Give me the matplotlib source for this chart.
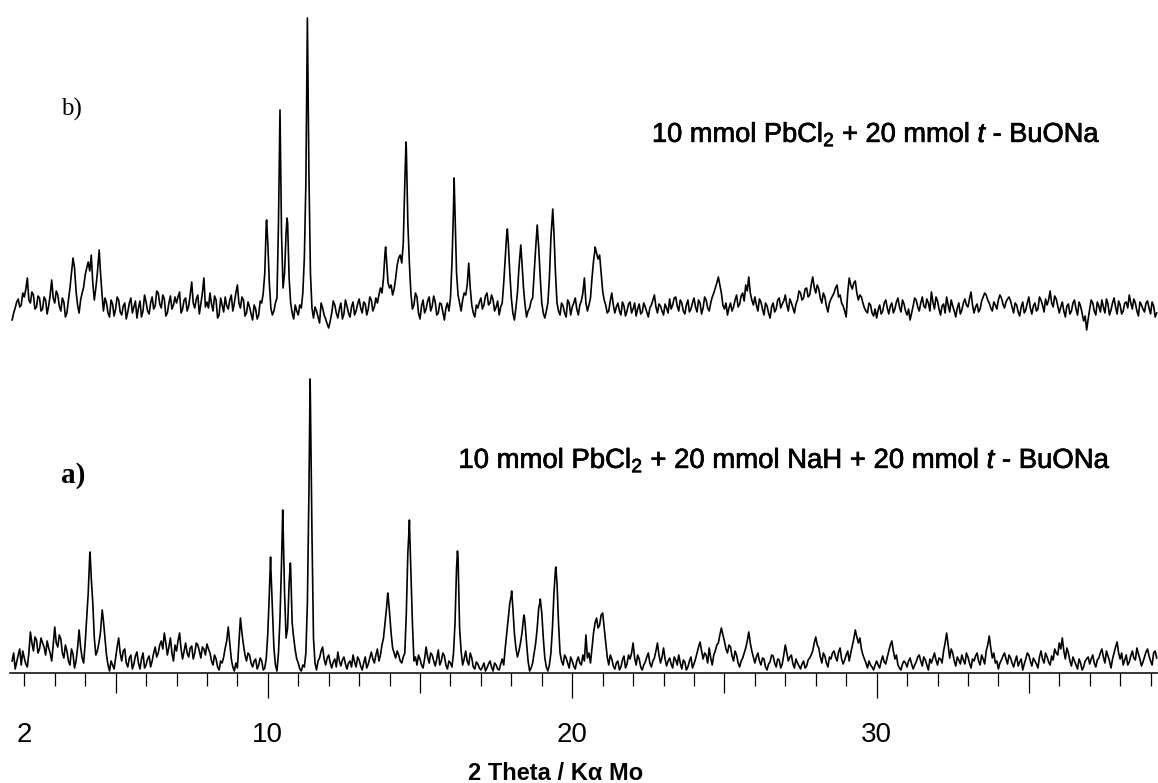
import numpy as np
import matplotlib
matplotlib.use("Agg")
import matplotlib.pyplot as plt
import matplotlib.patheffects as pe

plt.rcParams['font.family'] = ['Liberation Sans', 'DejaVu Sans']
plt.rcParams['mathtext.fontset'] = 'custom'
plt.rcParams['mathtext.rm'] = 'Liberation Sans'
plt.rcParams['mathtext.it'] = 'Liberation Sans:italic'
plt.rcParams['mathtext.bf'] = 'Liberation Sans:bold'

# intensities every 0.1 deg from 2theta = 1.6,
# plus the in-between readings at 1.65, 1.75, ...
x0 = 1.6
dx = 0.1

# b) 10 mmol PbCl2 + 20 mmol t-BuONa
b_counts = [
    13, 25, 34, 28,
    36, 55, 30, 38, 26, 35, 24, 33, 27, 53,
    30, 38, 22, 31, 20, 45, 75, 42, 20, 40,
    58, 71, 78, 33, 60, 62, 22, 30, 16, 29,
    24, 33, 18, 30, 21, 35, 26, 15, 32, 22,
    31, 19, 36, 27, 40, 25, 34, 20, 37, 28,
    30, 41, 24, 35, 27, 51, 25, 38, 29, 55,
    31, 40, 22, 33, 18, 28, 36, 24, 38, 30,
    48, 25, 33, 20, 26, 13, 24, 18, 30, 60,
    90, 25, 22, 35, 223, 45, 100, 55, 20, 28,
    18, 25, 75, 315, 60, 15, 22, 10, 25, 14,
    5, 20, 28, 15, 30, 19, 27, 16, 31, 22,
    34, 20, 29, 24, 33, 26, 30, 45, 55, 72,
    45, 38, 55, 75, 70, 150, 110, 40, 28, 36,
    14, 33, 24, 36, 27, 31, 20, 29, 13, 30,
    35, 125, 60, 30, 33, 38, 70, 28, 16, 25,
    35, 28, 40, 30, 33, 26, 18, 30, 75, 90,
    35, 13, 40, 85, 45, 16, 25, 35, 85, 85,
    30, 15, 30, 95, 100, 30, 18, 27, 16, 30,
    26, 35, 18, 32, 55, 22, 35, 72, 80, 78,
    42, 28, 22, 40, 20, 30, 18, 27, 22, 31,
    24, 17, 29, 21, 26, 16, 28, 38, 20, 27,
    18, 25, 34, 28, 36, 22, 30, 19, 33, 24,
    35, 21, 30, 25, 33, 22, 36, 45, 56, 40,
    24, 18, 30, 26, 38, 29, 40, 48, 56, 33,
    36, 22, 31, 18, 27, 15, 30, 24, 35, 29,
    38, 22, 30, 20, 33, 40, 35, 45, 38, 56,
    40, 44, 30, 36, 21, 34, 40, 48, 38, 27,
    16, 55, 44, 52, 33, 36, 25, 20, 28, 17,
    15, 28, 22, 33, 19, 30, 24, 35, 21, 29,
    18, 13, 27, 33, 22, 36, 25, 30, 41, 24,
    32, 18, 29, 36, 21, 27, 16, 30, 23, 34,
    26, 41, 20, 29, 24, 36, 38, 30, 22, 28,
    33, 35, 25, 34, 32, 20, 28, 17, 31, 23,
    36, 19, 30, 24, 33, 21, 28, 42, 26, 34,
    20, 31, 16, 29, 22, 33, 18, 27, 12, 3,
    24, 30, 18, 27, 33, 20, 29, 23, 35, 19,
    28, 22, 31, 38, 24, 30, 17, 28, 21, 32,
    19, 27, 20,
]
b_counts_mid = [
    20, 31, 26, 40,
    44, 33, 41, 24, 37, 22, 36, 19, 38, 35,
    42, 27, 35, 16, 33, 60, 65, 28, 33, 46,
    65, 62, 50, 45, 80, 40, 35, 20, 33, 17,
    36, 21, 27, 14, 30, 20, 32, 25, 16, 38,
    22, 30, 24, 42, 29, 38, 17, 30, 24, 36,
    36, 20, 33, 22, 38, 30, 34, 19, 40, 26,
    25, 29, 37, 15, 35, 21, 27, 33, 22, 40,
    30, 36, 17, 31, 19, 28, 14, 32, 40, 110,
    50, 18, 30, 110, 100, 60, 110, 30, 14, 22,
    28, 40, 150, 160, 25, 26, 16, 30, 18, 9,
    12, 32, 20, 24, 14, 33, 20, 26, 18, 29,
    25, 31, 18, 36, 22, 35, 38, 40, 80, 50,
    48, 44, 68, 78, 90, 185, 70, 24, 40, 20,
    27, 20, 32, 22, 37, 18, 30, 21, 25, 22,
    70, 120, 38, 22, 40, 48, 45, 20, 28, 31,
    24, 37, 28, 38, 22, 32, 26, 50, 100, 60,
    20, 25, 65, 70, 28, 22, 32, 60, 108, 55,
    20, 22, 55, 120, 60, 22, 30, 20, 33, 18,
    30, 24, 28, 40, 30, 28, 55, 84, 74, 60,
    33, 20, 32, 28, 26, 22, 31, 17, 29, 20,
    30, 24, 19, 30, 21, 25, 33, 26, 29, 22,
    29, 20, 24, 35, 27, 33, 22, 28, 21, 30,
    26, 33, 19, 36, 25, 30, 40, 50, 48, 28,
    30, 25, 22, 33, 26, 37, 32, 42, 40, 28,
    28, 34, 24, 30, 20, 26, 21, 33, 25, 32,
    28, 34, 25, 29, 42, 33, 44, 36, 48, 46,
    48, 35, 40, 27, 30, 37, 45, 36, 30, 22,
    40, 48, 50, 40, 38, 30, 22, 30, 20, 24,
    23, 19, 30, 25, 27, 20, 31, 26, 33, 22,
    24, 20, 35, 26, 30, 27, 34, 22, 31, 36,
    24, 27, 20, 28, 33, 22, 25, 19, 30, 28,
    34, 28, 26, 21, 32, 40, 33, 25, 31, 24,
    38, 29, 31, 36, 26, 30, 21, 26, 20, 30,
    25, 27, 22, 36, 28, 34, 33, 30, 37, 27,
    26, 22, 27, 19, 30, 24, 31, 20, 17, 14,
    33, 22, 31, 21, 26, 34, 18, 30, 26, 32,
    19, 30, 25, 30, 34, 22, 31, 24, 30, 25,
    31, 16,
]
b_peak_x = [4.46, 9.96, 10.63, 13.87, 14.54, 16.12, 17.87, 18.31, 18.85, 19.36, 20.75]
b_peak_y = [83, 113, 115, 86, 191, 155, 104, 88, 108, 124, 86]

# a) 10 mmol PbCl2 + 20 mmol NaH + 20 mmol t-BuONa
a_counts = [
    12, 4, 18, 8,
    15, 6, 41, 22, 33, 24, 30, 18, 25, 12,
    46, 26, 34, 15, 22, 8, 19, 12, 43, 15,
    30, 80, 95, 35, 22, 40, 52, 18, 2, 8,
    15, 35, 12, 24, 6, 18, 9, 21, 4, 20,
    8, 17, 12, 26, 20, 32, 40, 18, 35, 12,
    22, 40, 14, 30, 16, 27, 20, 28, 15, 24,
    29, 20, 8, 14, 3, 10, 25, 46, 14, 2,
    5, 55, 28, 12, 18, 6, 14, 8, 12, 5,
    40, 105, 25, 2, 55, 150, 35, 90, 50, 23,
    10, 2, 6, 70, 270, 35, 3, 15, 26, 8,
    18, 5, 14, 21, 7, 16, 4, 12, 18, 6,
    13, 3, 16, 9, 21, 10, 24, 18, 35, 65,
    60, 25, 15, 18, 10, 20, 120, 100, 12, 8,
    14, 5, 26, 10, 18, 7, 23, 12, 17, 4,
    10, 20, 105, 45, 8, 22, 8, 15, 4, 9,
    3, 10, 5, 12, 2, 8, 3, 14, 25, 55,
    78, 40, 16, 30, 55, 30, 2, 10, 30, 65,
    60, 15, 2, 20, 80, 90, 20, 8, 15, 5,
    12, 4, 16, 8, 12, 15, 10, 40, 55, 48,
    60, 30, 8, 14, 4, 12, 6, 17, 9, 14,
    30, 8, 14, 3, 11, 20, 6, 15, 30, 10,
    25, 7, 15, 5, 13, 18, 4, 11, 6, 16,
    9, 20, 31, 14, 18, 25, 8, 22, 30, 45,
    32, 20, 26, 12, 18, 6, 15, 25, 41, 22,
    10, 20, 8, 14, 3, 11, 17, 6, 13, 9,
    28, 12, 18, 5, 10, 4, 12, 7, 15, 22,
    36, 25, 10, 17, 6, 14, 22, 12, 25, 9,
    18, 12, 27, 43, 30, 24, 14, 5, 8, 3,
    12, 5, 17, 9, 22, 32, 14, 8, 3, 12,
    6, 15, 4, 11, 18, 7, 13, 3, 10, 20,
    8, 14, 22, 40, 15, 20, 7, 13, 18, 9,
    16, 5, 12, 20, 8, 14, 22, 37, 15, 10,
    4, 13, 20, 9, 15, 6, 17, 11, 3, 14,
    18, 7, 12, 5, 22, 10, 16, 8, 13, 20,
    30, 35, 14, 20, 7, 12, 4, 10, 6, 14,
    9, 18, 6, 15, 24, 10, 17, 5, 20, 31,
    14, 8, 18, 11, 22, 13, 19, 7, 16, 24,
    12, 20, 15,
]
a_counts_mid = [
    20, 11, 24, 22,
    9, 20, 30, 36, 20, 35, 26, 32, 20, 28,
    30, 38, 20, 28, 12, 24, 5, 25, 26, 10,
    55, 118, 70, 18, 30, 60, 35, 8, 12, 4,
    26, 20, 22, 10, 15, 4, 17, 10, 14, 5,
    14, 6, 20, 16, 28, 24, 30, 26, 20, 28,
    32, 24, 22, 20, 25, 14, 30, 22, 26, 18,
    24, 12, 18, 6, 12, 16, 32, 30, 6, 10,
    30, 40, 18, 20, 10, 12, 4, 15, 3, 15,
    80, 65, 8, 20, 110, 80, 45, 105, 35, 14,
    4, 8, 20, 180, 140, 10, 12, 22, 14, 15,
    10, 11, 6, 12, 13, 9, 10, 6, 11, 16,
    7, 10, 5, 15, 14, 18, 12, 28, 50, 78,
    40, 20, 22, 12, 16, 60, 150, 50, 16, 18,
    8, 14, 16, 20, 12, 14, 8, 20, 8, 12,
    6, 50, 115, 22, 14, 12, 20, 6, 11, 5,
    6, 2, 9, 6, 10, 4, 9, 8, 40, 70,
    65, 25, 22, 40, 50, 12, 5, 20, 45, 72,
    35, 6, 8, 45, 104, 50, 12, 18, 10, 16,
    7, 12, 10, 18, 38, 20, 25, 50, 45, 58,
    45, 16, 18, 7, 10, 3, 13, 5, 18, 20,
    15, 18, 6, 8, 16, 10, 12, 22, 18, 16,
    14, 12, 9, 16, 8, 10, 13, 3, 12, 5,
    14, 26, 22, 20, 10, 15, 18, 28, 38, 38,
    24, 28, 17, 22, 10, 12, 20, 32, 30, 16,
    16, 12, 15, 6, 9, 18, 10, 14, 5, 18,
    20, 16, 9, 14, 7, 9, 5, 13, 18, 30,
    28, 16, 20, 10, 16, 20, 16, 21, 14, 13,
    22, 20, 34, 36, 35, 18, 10, 12, 6, 8,
    8, 12, 11, 16, 28, 22, 18, 5, 9, 10,
    12, 9, 8, 16, 12, 16, 8, 14, 15, 13,
    15, 10, 30, 28, 24, 12, 16, 9, 13, 20,
    10, 14, 17, 12, 18, 9, 28, 25, 20, 12,
    10, 17, 14, 18, 10, 12, 7, 14, 9, 20,
    12, 15, 9, 16, 14, 20, 11, 17, 24, 18,
    24, 22, 25, 12, 16, 8, 14, 3, 12, 16,
    14, 10, 13, 20, 16, 22, 12, 14, 26, 20,
    20, 13, 8, 17, 15, 25, 14, 11, 21, 17,
    8, 22,
]
a_peak_x = [4.16, 4.56, 10.09, 10.49, 10.74, 11.39, 13.94, 14.65, 16.23, 18.01, 18.42, 18.95, 19.46, 20.45]
a_peak_y = [121, 63, 116, 163, 110, 294, 80, 153, 122, 82, 58, 74, 106, 38]

b_offset = 340
labelled = [2, 10, 20, 30]


def trace(counts, mids, px, py):
    x = np.concatenate([x0 + dx * np.arange(len(counts)),
                        x0 + dx / 2 + dx * np.arange(len(mids)), px])
    y = np.concatenate([counts, mids, py]).astype(float)
    o = np.argsort(x, kind="stable")
    return x[o], y[o]


fig = plt.figure(figsize=(11.58, 7.83), dpi=100)
ax = fig.add_axes([0, 110 / 783, 1, 673 / 783])

xa, ya = trace(a_counts, a_counts_mid, a_peak_x, a_peak_y)
xb, yb = trace(b_counts, b_counts_mid, b_peak_x, b_peak_y)
ax.plot(xa, ya, color="black", lw=1.2)
ax.plot(xb, yb + b_offset, color="black", lw=1.2)

xmin, xmax = 2 - 24.3 / 30.44, 2 + 1133.7 / 30.44
ax.set_xlim(xmin, xmax)
ax.set_ylim(0, 673)

for s in ["top", "left", "right"]:
    ax.spines[s].set_visible(False)
ax.spines["bottom"].set_bounds(1.53, xmax)
ax.spines["bottom"].set_linewidth(1.1)
ax.set_yticks([])

ticks = list(range(2, 40))
ax.set_xticks(ticks)
ax.set_xticklabels([str(t) if t in labelled else "" for t in ticks])
ax.tick_params(axis="x", direction="out", length=18, width=0.9, pad=17, labelsize=20)
for t, tk in zip(ticks, ax.xaxis.get_major_ticks()):
    if t % 10 == 0:
        tk.tick1line.set_markersize(18)
    elif t % 5 == 0:
        tk.tick1line.set_markersize(14.4)
    else:
        tk.tick1line.set_markersize(9.4)

heavy = [pe.withStroke(linewidth=0.5, foreground="black")]
ax.text(3.206, 557, "b)", family="Liberation Serif", fontsize=18, va="baseline")
ax.text(3.206, 190, "a)", family="Liberation Serif", fontsize=21, fontweight="bold", va="baseline")
ax.text(22.62, 531, r"10 mmol PbCl$_2$ + 20 mmol $t$ - BuONa",
        fontsize=19.6, va="baseline", path_effects=heavy)
ax.text(16.26, 205, r"10 mmol PbCl$_2$ + 20 mmol NaH + 20 mmol $t$ - BuONa",
        fontsize=19.8, va="baseline", path_effects=heavy)

fig.text(556 / 1158, 3 / 783, "2 Theta / Kα Mo", fontsize=17, fontweight="bold",
         ha="center", va="baseline")

fig.savefig("out.png", dpi=100)
